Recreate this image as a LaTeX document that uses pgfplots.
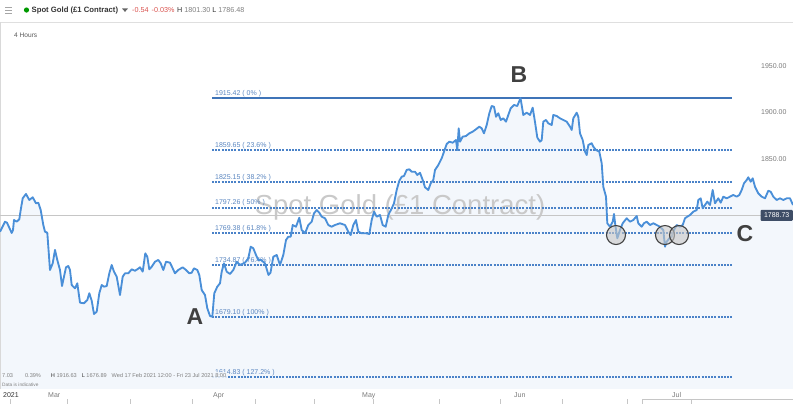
\documentclass[border=0pt]{standalone}
\usepackage{pgfplots}
\pgfplotsset{compat=1.18}
\usepackage{pgfplotstable}
\usepackage{fontspec}
\setmainfont{Liberation Sans}

\definecolor{goldline}{HTML}{4A8FD8}
\definecolor{goldfill}{HTML}{F3F7FC}
\definecolor{fibblue}{HTML}{3F74B8}
\definecolor{fibdot}{HTML}{4A82C8}
\definecolor{fibtext}{HTML}{5A86C0}
\definecolor{ticktext}{HTML}{7A7A7A}
\definecolor{tagfill}{HTML}{3E4D66}
\definecolor{redtxt}{HTML}{D9534F}
\definecolor{hdrtxt}{HTML}{333333}

% x = position along the time axis (Mar 1 at 50, Apr 1 at 207, ...), y = price
\pgfplotstableread{
x y
0 1771.2
5 1782.0
7 1780.9
11.7 1769.8
13 1773.0
14 1783.8
16.7 1782.0
19.3 1784.6
20.7 1794.6
22.7 1807.2
26 1811.9
29.3 1805.4
32.7 1808.3
36 1801.8
38.3 1802.5
40.7 1794.6
43.3 1778.4
45 1771.2
47.3 1770.1
50 1729.9
52.7 1737.1
55 1751.5
57.3 1740.7
60 1729.9
62 1712.6
64 1722.7
66 1732.8
68.3 1734.2
70 1729.9
71.7 1713.7
75 1710.1
77.3 1715.5
80 1694.6
84 1694.0
87.3 1697.5
89.3 1704.8
91.7 1696.8
94 1682.4
96.7 1684.9
99.3 1704.8
101.7 1713.7
104 1711.9
106.7 1712.6
109.3 1726.3
111.7 1735.3
114 1728.1
116.7 1722.7
120 1702.9
122.7 1722.7
125 1726.3
128.3 1726.3
131.7 1730.6
135 1729.1
137.3 1730.6
140 1732.8
142.7 1728.1
145.3 1747.9
147.3 1744.2
149.3 1730.6
151.7 1733.4
155 1738.8
158.3 1740.7
160.7 1737.1
163.3 1729.9
166 1738.8
170 1737.8
172.7 1731.7
175 1726.3
178.3 1729.9
182.7 1732.8
186 1729.9
189.3 1726.3
191.7 1727.0
194 1731.7
197.3 1729.9
199.3 1724.5
201.7 1708.3
205 1702.9
207.3 1688.6
210 1680.3
212.3 1679.5
214.3 1704.8
217.3 1711.9
220 1715.5
221.7 1728.1
224 1737.1
226.7 1728.1
230 1725.6
233.3 1729.9
236.7 1738.8
240 1735.3
245 1737.8
248.3 1742.5
250.7 1755.0
253.3 1753.3
256 1746.1
258.3 1740.7
261 1740.7
265 1737.1
268.5 1724.5
270.5 1727.0
273.3 1744.2
276.7 1746.1
280 1735.3
283.3 1746.1
286 1762.2
288.3 1765.8
290.7 1765.8
292.7 1778.4
296 1776.6
299.3 1786.3
301.7 1773.0
305 1769.5
308.3 1778.4
311.7 1782.0
314 1791.0
316.7 1794.6
319.3 1791.7
321.7 1787.4
325 1785.7
328.3 1778.4
331.7 1776.6
335 1778.4
340 1780.3
345 1778.4
348.3 1771.2
350.7 1767.6
353.3 1778.4
356 1783.8
358.3 1771.2
361.7 1769.5
366 1769.5
369.3 1768.7
371.7 1783.8
374 1792.8
376.7 1787.4
380 1789.2
382.7 1778.4
385.7 1776.6
388.3 1789.2
391.7 1796.4
394 1801.8
396.7 1816.2
399.3 1826.2
401.7 1830.5
404 1831.3
406.7 1837.8
409.3 1838.5
411.7 1835.9
415 1835.9
417.3 1832.4
420 1834.8
422.7 1827.0
425 1819.1
428.3 1816.2
430.7 1823.4
433.3 1827.0
435 1837.8
438.3 1843.1
441.7 1850.4
444 1857.5
446.7 1865.8
449.3 1868.3
452.7 1867.2
456 1870.1
457.3 1859.3
458.7 1882.7
460 1868.3
462.7 1873.7
466 1874.4
469.3 1877.3
472.7 1879.1
476 1881.7
479.3 1884.5
481.7 1882.7
484 1877.3
486.7 1886.3
489.3 1898.9
491.7 1906.8
494 1906.0
496 1895.2
498.3 1898.9
500.7 1891.7
503.3 1893.5
506 1889.9
508.3 1897.1
510.7 1904.3
514 1907.9
517.3 1906.8
520.5 1915.4
523.3 1897.1
526.7 1899.6
530 1897.1
532.7 1905.0
535 1889.5
537.3 1872.8
540 1868.3
541.7 1870.1
543.3 1889.9
546 1891.7
548.3 1888.1
551.7 1886.3
553.3 1897.1
556.7 1896.0
560 1893.5
563.3 1891.7
566.7 1889.9
570 1884.5
571.7 1880.9
573.3 1893.5
576.7 1899.6
578.3 1895.2
580 1877.3
582.7 1870.1
585 1857.5
586.7 1853.9
588.3 1864.7
591.7 1866.6
593.3 1862.9
596 1859.3
599.3 1857.5
601.7 1845.0
603.3 1819.7
606 1809.0
607.3 1780.3
610 1776.6
612.7 1782.0
614 1790.3
615.3 1778.4
617.3 1764.1
620 1773.0
622.7 1780.3
626.7 1785.7
630 1782.0
633.3 1783.8
636.7 1788.1
638.3 1780.3
641.7 1776.6
644 1780.3
646.7 1782.0
650 1778.4
653.3 1780.3
656.7 1778.4
660 1776.6
663.3 1773.0
665 1755.0
666.7 1760.4
669.3 1764.1
671.7 1765.8
674 1773.0
676.7 1778.4
680 1776.6
682.7 1778.4
685 1785.7
687.3 1787.4
690 1789.2
693.3 1792.8
696.7 1794.6
698.3 1805.4
700.7 1807.2
702.7 1796.4
705 1800.0
707.3 1803.6
710 1800.0
712.7 1816.2
715 1801.8
718.3 1807.2
720.7 1802.5
723.3 1809.0
726.7 1807.2
730 1809.0
733.3 1810.8
736.7 1809.0
739.3 1810.8
741.7 1816.2
744 1823.4
746.7 1827.0
748.3 1829.9
750.7 1825.1
752.7 1828.8
755 1819.7
758.3 1812.6
761.7 1809.0
765 1807.2
768.3 1815.4
770.7 1814.3
773.3 1809.0
776.7 1805.4
780 1807.2
783.3 1805.4
786.7 1807.2
790 1807.2
793 1800.0
}\goldtable

\newcommand{\fs}[1]{\fontsize{#1}{#1}\selectfont}
\pgfplotsset{fibdots/.style={fibdot, line width=2pt, dash pattern=on 2pt off 1.2pt}}

\begin{document}
\begin{tikzpicture}
\begin{axis}[
  at={(0,0)}, anchor=south west,
  scale only axis, width=793pt, height=389pt,
  xmin=0, xmax=793, ymin=1601.52, ymax=2021.13,
  axis line style={draw=none},
  major tick length=0pt,
  clip mode=individual,
  ytick={1650,1700,1750,1800,1850,1900,1950},
  yticklabel pos=right,
  yticklabel style={anchor=east, xshift=-3pt, font=\fs{7}, text=ticktext,
    /pgf/number format/fixed, /pgf/number format/fixed zerofill,
    /pgf/number format/precision=2, /pgf/number format/1000 sep={},
    /pgf/number format/assume math mode=true},
  xtick={3,48,213,362,514,672},
  xticklabels={\textcolor{hdrtxt}{2021},Mar,Apr,May,Jun,Jul},
  xticklabel style={anchor=north west, inner sep=0pt, yshift=-3.5pt, font=\fs{7}, text=ticktext},
]
% area under the price line
\addplot[draw=none, fill=goldfill] table {\goldtable} \closedcycle;

% header
\draw[gray!25] (axis cs:0,1997.4) -- (axis cs:793,1997.4);
\draw[gray!30] (axis cs:0.5,1601.5) -- (axis cs:0.5,1997.4);
\draw[gray!70, line width=0.8pt] (axis cs:5,2013.6) -- (axis cs:12,2013.6);
\draw[gray!70, line width=0.8pt] (axis cs:5,2010.3) -- (axis cs:12,2010.3);
\draw[gray!70, line width=0.8pt] (axis cs:5,2007.1) -- (axis cs:12,2007.1);
\fill[green!60!black] (axis cs:26.5,2010.3) circle[radius=2.6pt];
\node[anchor=west, inner sep=0pt, font=\fs{7.7}\bfseries, text=hdrtxt] at (axis cs:31.5,2010.3) {Spot Gold (£1 Contract)};
\fill[gray!80!black] (axis cs:122,2012) -- (axis cs:128,2012) -- (axis cs:125,2008.3) -- cycle;
\node[anchor=west, inner sep=0pt, font=\fs{7.2}, text=redtxt] at (axis cs:132,2010.3) {-0.54\hspace{3pt}-0.03\%};
\node[anchor=west, inner sep=0pt, font=\fs{7.2}, text=gray] at (axis cs:177,2010.3) {\textcolor{hdrtxt}{H} 1801.30 \textcolor{hdrtxt}{L} 1786.48};
\node[anchor=west, inner sep=0pt, font=\fs{6.6}, text=black!65] at (axis cs:14,1983.4) {4 Hours};

% watermark
\node[text=gray!42, font=\fs{27.5}] at (axis cs:400,1797.8) {Spot Gold (£1 Contract)};

% current price line
\draw[gray!45, line width=0.6pt] (axis cs:0,1788.73) -- (axis cs:793,1788.73);

% Fibonacci levels
\addplot[fibblue, line width=1.3pt] coordinates {(212,1915.42) (732,1915.42)};
\addplot[fibdots] coordinates {(212,1859.65) (732,1859.65)};
\addplot[fibdots] coordinates {(212,1825.15) (732,1825.15)};
\addplot[fibdots] coordinates {(212,1797.26) (732,1797.26)};
\addplot[fibdots] coordinates {(212,1769.38) (732,1769.38)};
\addplot[fibdots] coordinates {(212,1734.87) (732,1734.87)};
\addplot[fibdots] coordinates {(212,1679.10) (732,1679.10)};
\addplot[fibdots] coordinates {(212,1614.83) (732,1614.83)};
\node[anchor=south west, inner sep=1pt, font=\fs{7}, text=fibtext] at (axis cs:214,1915.42) {1915.42 ( 0\% )};
\node[anchor=south west, inner sep=1pt, font=\fs{7}, text=fibtext] at (axis cs:214,1859.65) {1859.65 ( 23.6\% )};
\node[anchor=south west, inner sep=1pt, font=\fs{7}, text=fibtext] at (axis cs:214,1825.15) {1825.15 ( 38.2\% )};
\node[anchor=south west, inner sep=1pt, font=\fs{7}, text=fibtext] at (axis cs:214,1797.26) {1797.26 ( 50\% )};
\node[anchor=south west, inner sep=1pt, font=\fs{7}, text=fibtext] at (axis cs:214,1769.38) {1769.38 ( 61.8\% )};
\node[anchor=south west, inner sep=1pt, font=\fs{7}, text=fibtext] at (axis cs:214,1734.87) {1734.87 ( 76.4\% )};
\node[anchor=south west, inner sep=1pt, font=\fs{7}, text=fibtext] at (axis cs:214,1679.10) {1679.10 ( 100\% )};
\node[anchor=south west, inner sep=1pt, font=\fs{7}, text=fibtext] at (axis cs:214,1614.83) {1614.83 ( 127.2\% )};

% price line
\addplot[goldline, line width=1.85pt, line join=round] table {\goldtable};

% touch points
\draw[fill=gray!45, fill opacity=0.6, draw=black!75, line width=1.1pt] (axis cs:616,1767.6) circle[radius=9.5pt];
\draw[fill=gray!45, fill opacity=0.6, draw=black!75, line width=1.1pt] (axis cs:665,1767.6) circle[radius=9.5pt];
\draw[fill=gray!45, fill opacity=0.6, draw=black!75, line width=1.1pt] (axis cs:679,1767.6) circle[radius=9.5pt];

% wave labels
\node[font=\fs{23}\bfseries, text=black!75] at (axis cs:195,1679.5) {A};
\node[font=\fs{23}\bfseries, text=black!75] at (axis cs:519,1940.6) {B};
\node[font=\fs{23}\bfseries, text=black!75] at (axis cs:745,1769.3) {C};

% price tag
\node[anchor=east, fill=tagfill, text=white, font=\fs{7}, inner xsep=3.5pt, inner ysep=3pt, rounded corners=1pt] at (axis cs:793,1788.73) {1788.73};

% info line
\node[anchor=west, inner sep=1pt, font=\fs{5.6}, text=gray, fill=goldfill, fill opacity=0.85, text opacity=1] at (axis cs:1,1616.6)
  {7.03\hspace{12pt}0.39\%\hspace{10pt}\textcolor{hdrtxt}{H} 1916.63\hspace{5pt}\textcolor{hdrtxt}{L} 1676.89\hspace{5pt}Wed 17 Feb 2021 12:00 - Fri 23 Jul 2021 8:00};
\node[anchor=west, inner sep=0pt, font=\fs{4.8}, text=gray] at (axis cs:2,1605.8) {Data is indicative};
\end{axis}
% navigator strip at the bottom
\foreach \tx in {10,67,130,192,255,314,373,439,500,562,627,691}
  \draw[gray!45] (\tx pt,-10.5pt) -- (\tx pt,-15pt);
\draw[gray!45] (642pt,-15pt) -- (642pt,-10.5pt) -- (793pt,-10.5pt);
\pgfresetboundingbox
\path (0,-15pt) rectangle (793pt,389pt);
\end{tikzpicture}
\end{document}
